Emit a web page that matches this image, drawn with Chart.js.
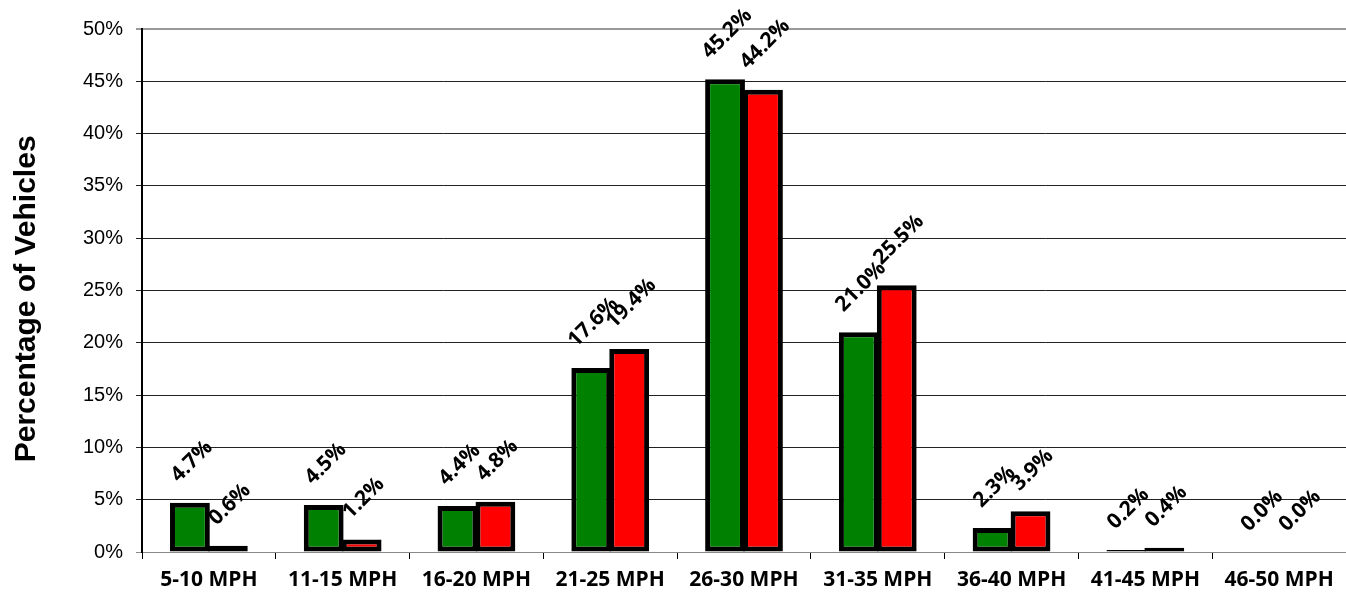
<!DOCTYPE html>
<html>
<head>
<meta charset="utf-8">
<script src="https://cdn.jsdelivr.net/npm/chart.js@4/dist/chart.umd.min.js"></script>
<style>
html,body{margin:0;padding:0;background:#fff;overflow:hidden;}
canvas{display:block;}
</style>
</head>
<body>
<canvas id="c" width="1346" height="597"></canvas>
<script>
const categories = ["5-10 MPH","11-15 MPH","16-20 MPH","21-25 MPH","26-30 MPH","31-35 MPH","36-40 MPH","41-45 MPH","46-50 MPH"];
const seriesA = [4.7, 4.5, 4.4, 17.6, 45.2, 21.0, 2.3, 0.2, 0.0];
const seriesB = [0.6, 1.2, 4.8, 19.4, 44.2, 25.5, 3.9, 0.4, 0.0];
const yTicks = [0,5,10,15,20,25,30,35,40,45,50];
const yTitle = "Percentage of Vehicles";

const labelFont = 'bold 21px "Open Sans", sans-serif';

const labelPlugin = {
  id: 'valueLabels',
  afterDatasetsDraw(chart) {
    const ctx = chart.ctx;
    ctx.save();
    ctx.font = labelFont;
    ctx.fillStyle = '#000';
    ctx.textAlign = 'center';
    ctx.textBaseline = 'middle';
    chart.data.datasets.forEach((ds, i) => {
      const meta = chart.getDatasetMeta(i);
      meta.data.forEach((bar, j) => {
        const txt = ds.data[j].toFixed(1) + '%';
        const w = ctx.measureText(txt).width;
        const off = 24 + w * 0.354;
        const p = bar.getProps(['x','y'], true);
        ctx.save();
        ctx.translate(p.x + 2, p.y - off);
        ctx.rotate(-Math.PI / 4);
        ctx.fillText(txt, 0, 0);
        ctx.restore();
      });
    });
    ctx.restore();
  }
};

new Chart(document.getElementById('c'), {
  type: 'bar',
  data: {
    labels: categories,
    datasets: [
      { data: seriesA, backgroundColor: '#008000', borderColor: '#000', borderWidth: 5, borderSkipped: false,
        categoryPercentage: 0.567, barPercentage: 1.05 },
      { data: seriesB, backgroundColor: '#FF0000', borderColor: '#000', borderWidth: 5, borderSkipped: false,
        categoryPercentage: 0.567, barPercentage: 1.05 }
    ]
  },
  options: {
    responsive: false,
    animation: false,
    layout: { padding: { top: 29, right: 0, bottom: 0, left: 0 } },
    plugins: { legend: { display: false }, tooltip: { enabled: false } },
    scales: {
      x: {
        afterFit(s) { s.height = 45; },
        grid: { offset: true, drawOnChartArea: false, tickLength: 7, color: '#000', lineWidth: 1 },
        border: { display: true, color: '#888', width: 1 },
        ticks: { color: '#000', padding: 8, font: { family: '"Open Sans", sans-serif', weight: 'bold', size: 21 }, maxRotation: 0 }
      },
      y: {
        min: 0, max: 50,
        afterFit(s) { s.width = 142; },
        afterBuildTicks(s) { s.ticks = yTicks.map(v => ({ value: v })); },
        grid: {
          tickLength: 6,
          color: (c) => c.tick && c.tick.value === 50 ? '#999' : (c.tick && c.tick.value === 0 ? '#888' : '#222'),
          lineWidth: (c) => c.tick && c.tick.value === 50 ? 2 : 1
        },
        border: { display: true, color: '#000', width: 2 },
        ticks: { color: '#000', padding: 13, font: { family: '"Liberation Sans", Arial, sans-serif', size: 20 }, callback: (v) => v + '%' },
        title: { display: true, text: yTitle + '  ', color: '#000', padding: { top: 9, bottom: 0 }, font: { family: '"Liberation Sans", Arial, sans-serif', weight: 'bold', size: 30 } }
      }
    }
  },
  plugins: [labelPlugin]
});
</script>
</body>
</html>
